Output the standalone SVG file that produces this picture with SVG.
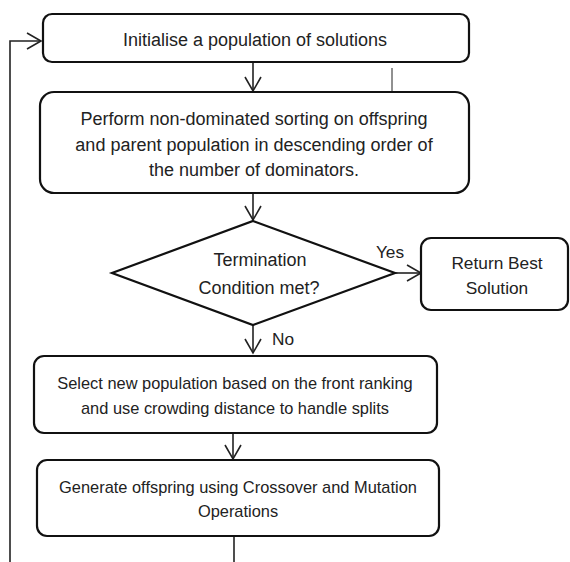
<svg xmlns="http://www.w3.org/2000/svg" width="570" height="562" viewBox="0 0 570 562">
<defs>
<marker id="arr" markerWidth="18" markerHeight="20" refX="15" refY="9" orient="auto" markerUnits="userSpaceOnUse">
<path d="M1,1 L15,9 L1,17" fill="none" stroke="#222" stroke-width="1.6"/>
</marker>
<style>
.box{fill:#fff;stroke:#111;stroke-width:2.2}
.t{font-family:"Liberation Sans",Arial,sans-serif;font-size:18px;fill:#222;text-anchor:middle}
.s{font-size:16.4px}
.r{font-size:17.3px}
.c{fill:none;stroke:#222;stroke-width:1.6}
</style>
</defs>
<rect width="570" height="562" fill="#fff"/>
<g id="connectors">
<path class="c" d="M10,562 V41 H41" marker-end="url(#arr)"/>
<path class="c" d="M253,63 V91" marker-end="url(#arr)"/>
<path class="c" d="M392,68 V100" style="stroke-width:1"/>
<path class="c" d="M253,194 V220" marker-end="url(#arr)"/>
<path class="c" d="M395,273 H421" marker-end="url(#arr)"/>
<path class="c" d="M253,325 V353" marker-end="url(#arr)"/>
<path class="c" d="M233,434 V459" marker-end="url(#arr)"/>
<path class="c" d="M234,537 V562"/>
<text class="t r" x="390" y="258">Yes</text>
<text class="t r" x="283" y="345">No</text>
</g>
<g id="init">
<rect class="box" x="43" y="14" width="426" height="48" rx="9"/>
<text class="t" x="255" y="46">Initialise a population of solutions</text>
</g>
<g id="sort">
<rect class="box" x="40" y="92" width="429" height="101" rx="14"/>
<text class="t" x="254" y="125">Perform non-dominated sorting on offspring</text>
<text class="t" x="254" y="151">and parent population in descending order of</text>
<text class="t" x="254" y="176">the number of dominators.</text>
</g>
<g id="decision">
<path class="box" d="M253,221 L395,273 L253,325 L112,273 Z"/>
<text class="t" x="260" y="266">Termination</text>
<text class="t" x="259" y="294">Condition met?</text>
</g>
<g id="return">
<rect class="box" x="421" y="238" width="147" height="72" rx="10"/>
<text class="t r" x="497" y="269">Return Best</text>
<text class="t r" x="497" y="294">Solution</text>
</g>
<g id="select">
<rect class="box" x="34" y="356" width="403" height="77" rx="10"/>
<text class="t s" x="235" y="389">Select new population based on the front ranking</text>
<text class="t s" x="235" y="414">and use crowding distance to handle splits</text>
</g>
<g id="generate">
<rect class="box" x="37" y="460" width="402" height="76" rx="10"/>
<text class="t s" x="238" y="493">Generate offspring using Crossover and Mutation</text>
<text class="t s" x="238" y="517">Operations</text>
</g>
</svg>
